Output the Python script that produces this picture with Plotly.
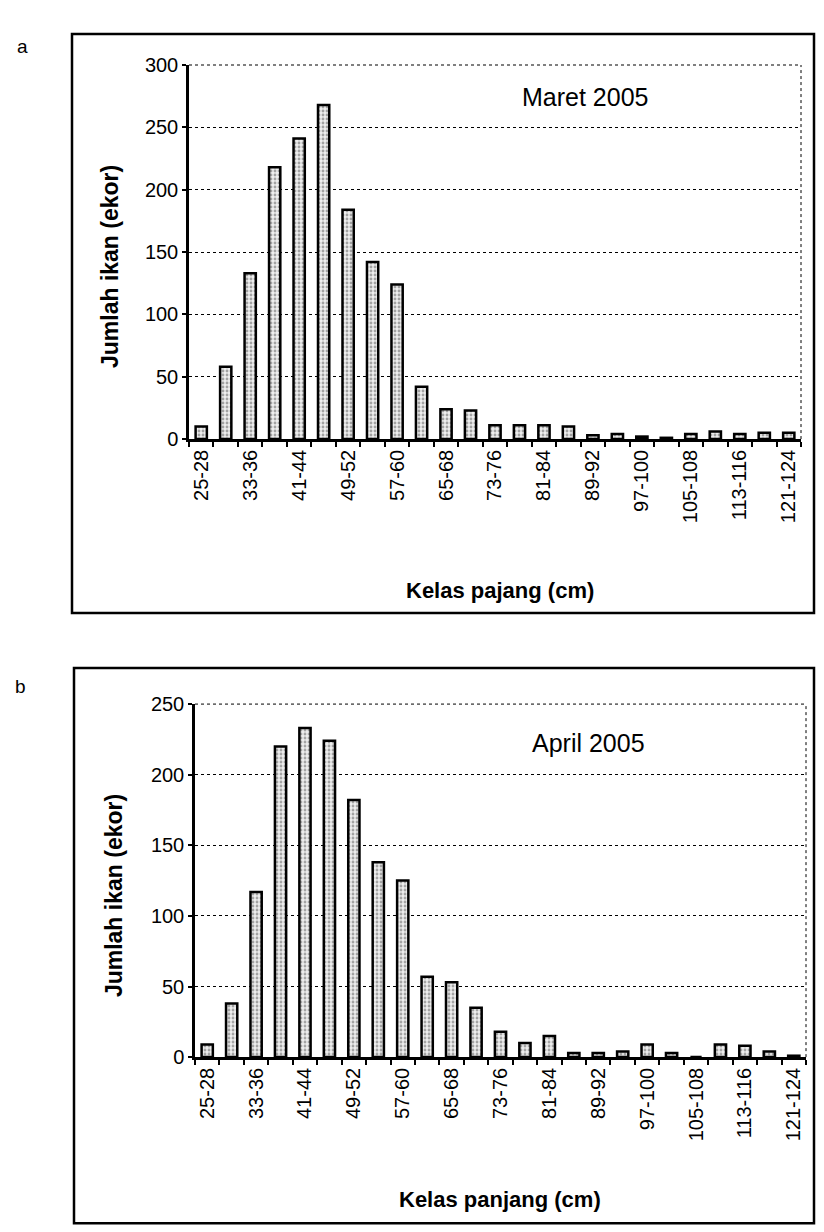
import plotly.graph_objects as go

categories = ["25-28", "29-32", "33-36", "37-40", "41-44", "45-48", "49-52", "53-56",
              "57-60", "61-64", "65-68", "69-72", "73-76", "77-80", "81-84", "85-88",
              "89-92", "93-96", "97-100", "101-104", "105-108", "109-112", "113-116",
              "117-120", "121-124"]
maret_2005 = [10, 58, 133, 218, 241, 268, 184, 142, 124, 42, 24, 23, 11, 11, 11, 10,
              3, 4, 2, 1, 4, 6, 4, 5, 5]
april_2005 = [9, 38, 117, 220, 233, 224, 182, 138, 125, 57, 53, 35, 18, 10, 15, 3,
              3, 4, 9, 3, 0, 9, 8, 4, 1]
tick_text = [c if i % 2 == 0 else "" for i, c in enumerate(categories)]

# placement of the figure inside the photographed page
X0, Y0, SY = 8, 18, 0.982
W, H = 808, 1230
FONT = "Liberation Sans, Arial, sans-serif"


def px(x):
    return (x - X0) / W


def py(y):
    return 1 - ((y - Y0) / SY) / H


fig = go.Figure()

bar_marker = dict(
    color="#e6e6e6",
    line=dict(color="black", width=2.5),
    pattern=dict(shape=".", fgcolor="#555555", bgcolor="#eeeeee", size=4, solidity=0.4),
)

fig.add_trace(go.Bar(x=categories, y=maret_2005, xaxis="x", yaxis="y",
                     marker=bar_marker, width=0.46, showlegend=False))
fig.add_trace(go.Bar(x=categories, y=april_2005, xaxis="x2", yaxis="y2",
                     marker=bar_marker, width=0.46, showlegend=False))

xcommon = dict(
    type="category",
    categoryorder="array",
    categoryarray=categories,
    tickmode="array",
    tickvals=categories,
    ticktext=tick_text,
    tickangle=-90,
    tickson="boundaries",
    ticks="outside",
    ticklen=5,
    tickwidth=2,
    tickcolor="black",
    showline=True,
    linecolor="black",
    linewidth=2.5,
    showgrid=False,
    zeroline=False,
    tickfont=dict(family=FONT, size=20, color="black"),
    fixedrange=True,
)
ycommon = dict(
    dtick=50,
    tick0=0,
    ticks="outside",
    ticklen=4,
    tickwidth=2,
    tickcolor="black",
    showline=True,
    linecolor="black",
    linewidth=2.5,
    showgrid=True,
    gridcolor="black",
    gridwidth=1,
    griddash="dot",
    zeroline=False,
    tickfont=dict(family=FONT, size=20, color="black"),
    fixedrange=True,
)

fig.update_layout(
    width=W, height=H,
    margin=dict(l=0, r=0, t=0, b=0),
    paper_bgcolor="white",
    plot_bgcolor="white",
    xaxis=dict(xcommon, domain=[px(189), px(801)], anchor="y"),
    yaxis=dict(ycommon, domain=[py(438), py(64)], range=[0, 300], anchor="x"),
    xaxis2=dict(xcommon, domain=[px(195), px(806)], anchor="y2"),
    yaxis2=dict(ycommon, domain=[py(1056), py(703)], range=[0, 250], anchor="x2"),
)

dot = dict(color="black", width=1, dash="dot")
shapes = [
    # outer frames
    dict(type="rect", xref="paper", yref="paper", x0=px(72), x1=px(814), y0=py(612), y1=py(33),
         line=dict(color="black", width=2.5)),
    dict(type="rect", xref="paper", yref="paper", x0=px(74), x1=px(814), y0=py(1222), y1=py(667),
         line=dict(color="black", width=2.5)),
    # dotted right and top borders of plot areas
    dict(type="line", xref="x domain", yref="y domain", x0=1, x1=1, y0=0, y1=1, line=dot),
    dict(type="line", xref="x domain", yref="y domain", x0=0, x1=1, y0=1, y1=1, line=dot),
    dict(type="line", xref="x2 domain", yref="y2 domain", x0=1, x1=1, y0=0, y1=1, line=dot),
    dict(type="line", xref="x2 domain", yref="y2 domain", x0=0, x1=1, y0=1, y1=1, line=dot),
]
fig.update_layout(shapes=shapes)

ann = [
    dict(text="a", x=px(22), y=py(45), font=dict(size=19)),
    dict(text="b", x=px(20), y=py(685), font=dict(size=19)),
    dict(text="Maret 2005", x=px(585), y=py(96), font=dict(size=25)),
    dict(text="April 2005", x=px(588), y=py(742), font=dict(size=25)),
    dict(text="<b>Kelas pajang (cm)</b>", x=px(500), y=py(589), font=dict(size=22)),
    dict(text="<b>Kelas panjang (cm)</b>", x=px(500), y=py(1198), font=dict(size=22)),
    dict(text="<b>Jumlah ikan (ekor)</b>", x=px(110), y=py(266), textangle=-90, font=dict(size=23)),
    dict(text="<b>Jumlah ikan (ekor)</b>", x=px(114), y=py(895), textangle=-90, font=dict(size=23)),
]
for a in ann:
    a.update(xref="paper", yref="paper", showarrow=False, xanchor="center", yanchor="middle")
    a["font"].update(family=FONT, color="black")
fig.update_layout(annotations=ann)

fig.write_html("out.html")
